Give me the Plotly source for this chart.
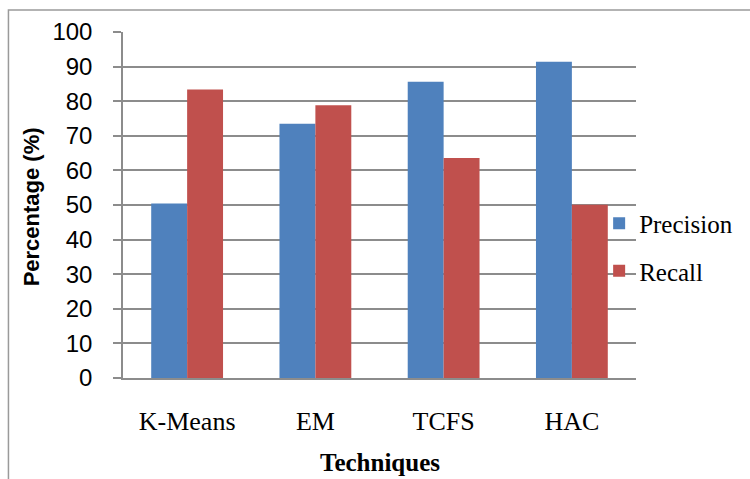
import plotly.graph_objects as go

techniques = ["K-Means", "EM", "TCFS", "HAC"]
precision = [50.4, 73.5, 85.6, 91.4]
recall = [83.4, 78.8, 63.6, 50.1]
y_ticks = [0, 10, 20, 30, 40, 50, 60, 70, 80, 90, 100]

fig = go.Figure()
fig.add_trace(go.Bar(x=techniques, y=precision, name="Precision",
                     marker=dict(color="#4F81BD", line=dict(width=0)), legendgroup="p"))
fig.add_trace(go.Bar(x=techniques, y=recall, name="Recall",
                     marker=dict(color="#C0504D", line=dict(width=0)), legendgroup="r"))

L, R, T, B = 123, 112, 32, 101
W, H = 750, 479
pw, ph = W - L - R, H - T - B

fig.update_layout(
    width=W, height=H,
    margin=dict(l=L, r=R, t=T, b=B, pad=0),
    paper_bgcolor="white", plot_bgcolor="white",
    barmode="group", bargap=0.44, bargroupgap=0,
    showlegend=True,
    legend=dict(x=(601 - L) / pw, xanchor="left", y=(378 - 247) / ph, yanchor="middle",
                font=dict(family="Liberation Serif", size=25, color="black"),
                tracegroupgap=12, itemwidth=30, bgcolor="rgba(0,0,0,0)"),
    xaxis=dict(showline=True, linecolor="#8c8c8c", linewidth=1.5,
               tickfont=dict(family="Liberation Serif", size=26, color="black"),
               ticks="", ticklabelstandoff=19, showgrid=False, fixedrange=True),
    yaxis=dict(range=[0, 100], tickvals=y_ticks, showline=True, linecolor="#8c8c8c", linewidth=1.5,
               ticks="outside", ticklen=8, tickcolor="#8c8c8c", tickwidth=1.5,
               showgrid=True, gridcolor="#8c8c8c", gridwidth=1.5, zeroline=False,
               tickfont=dict(family="Liberation Sans", size=24, color="black"),
               ticklabelstandoff=16, fixedrange=True),
    annotations=[
        dict(text="<b>Percentage (%)</b>", xref="paper", yref="paper",
             x=(31 - L) / pw, y=(378 - 207) / ph, textangle=-90, showarrow=False,
             font=dict(family="Liberation Sans", size=22, color="black"),
             xanchor="center", yanchor="middle"),
        dict(text="<b>Techniques</b>", xref="paper", yref="paper",
             x=(381 - L) / pw, y=(378 - 463) / ph, showarrow=False,
             font=dict(family="Liberation Serif", size=25, color="black"),
             xanchor="center", yanchor="middle"),
    ],
    shapes=[
        dict(type="rect", xref="paper", yref="paper",
             x0=(8 - L) / pw, x1=(760 - L) / pw, y0=(378 - 490) / ph, y1=(378 - 10) / ph,
             line=dict(color="#9a9a9a", width=1.5), fillcolor="rgba(0,0,0,0)", layer="below"),
    ],
)

fig.write_html("out.html", config={"displayModeBar": False},
               post_script="document.body.style.margin='0';document.body.style.padding='0';")
